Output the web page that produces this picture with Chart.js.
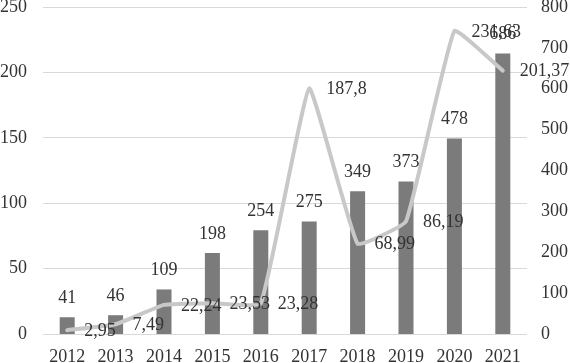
<!DOCTYPE html>
<html lang="en">
<head>
    <meta charset="UTF-8">
    <title>Chart</title>
    <script src="https://cdn.jsdelivr.net/npm/chart.js"></script>
    <style>
        html, body { margin: 0; padding: 0; background: #ffffff; }
        #wrap { width: 570px; height: 363px; }
    </style>
</head>
<body>
<div id="wrap"><canvas id="chart" width="570" height="363"></canvas></div>
<script>
    var years = ['2012', '2013', '2014', '2015', '2016', '2017', '2018', '2019', '2020', '2021'];
    var barValues = [41, 46, 109, 198, 254, 275, 349, 373, 478, 686];
    var lineValues = [2.95, 7.49, 22.24, 23.53, 23.28, 187.8, 68.99, 86.19, 231.63, 201.37];
    var leftTicks = [0, 50, 100, 150, 200, 250];
    var rightTicks = [0, 100, 200, 300, 400, 500, 600, 700, 800];

    var fontFamily = '"Liberation Serif", "Times New Roman", serif';
    var textColor = '#333333';

    function commaNum(v) {
        return String(v).replace('.', ',');
    }

    // draws the value labels like the excel original
    var valueLabels = {
        id: 'valueLabels',
        afterDatasetsDraw: function (chart) {
            var ctx = chart.ctx;
            ctx.save();
            ctx.font = '18px ' + fontFamily;
            ctx.fillStyle = textColor;

            var barMeta = chart.getDatasetMeta(1);
            ctx.textAlign = 'center';
            ctx.textBaseline = 'middle';
            barMeta.data.forEach(function (bar, i) {
                ctx.fillText(String(barValues[i]), bar.x, bar.y - 19);
            });

            var lineMeta = chart.getDatasetMeta(0);
            ctx.textAlign = 'left';
            lineMeta.data.forEach(function (pt, i) {
                ctx.fillText(commaNum(lineValues[i]), pt.x + 17, pt.y + 1);
            });
            ctx.restore();
        }
    };

    function fixY(scale) {
        scale.width = 43;
        scale.paddingTop = 0;
        scale.paddingBottom = 0;
    }

    var ctx = document.getElementById('chart').getContext('2d');
    new Chart(ctx, {
        data: {
            labels: years,
            datasets: [{
                type: 'line',
                data: lineValues,
                yAxisID: 'y',
                borderColor: '#c8c8c8',
                borderWidth: 4,
                borderCapStyle: 'round',
                pointRadius: 0,
                tension: 0.1,
                fill: false,
                order: 0
            }, {
                type: 'bar',
                data: barValues,
                yAxisID: 'y1',
                backgroundColor: '#7b7b7b',
                categoryPercentage: 1,
                barPercentage: 0.31,
                order: 1
            }]
        },
        options: {
            responsive: false,
            animation: false,
            layout: { padding: { top: 7, bottom: 0, left: 0, right: 0 } },
            plugins: {
                legend: { display: false },
                tooltip: { enabled: false }
            },
            scales: {
                x: {
                    grid: { display: false },
                    border: { display: false },
                    ticks: {
                        color: textColor,
                        font: { family: fontFamily, size: 18 },
                        padding: 4,
                        maxRotation: 0
                    },
                    afterFit: function (scale) {
                        scale.height = 29;
                        scale.paddingLeft = 0;
                        scale.paddingRight = 0;
                    }
                },
                y: {
                    position: 'left',
                    min: 0,
                    max: 250,
                    afterBuildTicks: function (scale) {
                        scale.ticks = leftTicks.map(function (v) { return { value: v }; });
                    },
                    grid: { color: '#d9d9d9', lineWidth: 1, drawTicks: false },
                    border: { display: false },
                    ticks: {
                        color: textColor,
                        font: { family: fontFamily, size: 18 },
                        padding: 16
                    },
                    afterFit: fixY
                },
                y1: {
                    position: 'right',
                    min: 0,
                    max: 800,
                    afterBuildTicks: function (scale) {
                        scale.ticks = rightTicks.map(function (v) { return { value: v }; });
                    },
                    grid: { display: false, drawTicks: false },
                    border: { display: false },
                    ticks: {
                        color: textColor,
                        font: { family: fontFamily, size: 18 },
                        padding: 14
                    },
                    afterFit: fixY
                }
            }
        },
        plugins: [valueLabels]
    });
</script>
</body>
</html>
